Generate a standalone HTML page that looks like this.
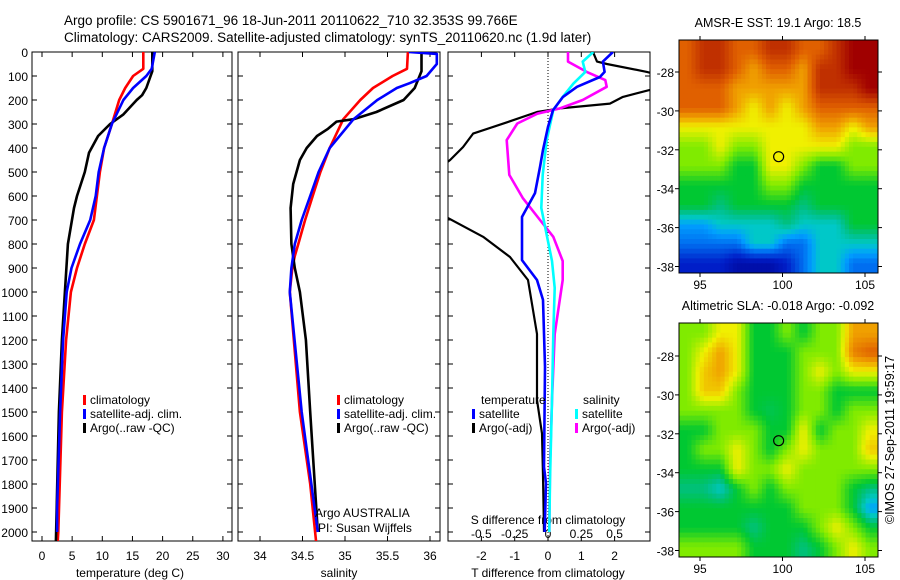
<!DOCTYPE html>
<html><head><meta charset="utf-8"><style>
body{margin:0;background:#fff;}
svg{display:block;font-family:"Liberation Sans",sans-serif;}
text{fill:#000;}
</style></head><body>
<svg id="fig" width="900" height="580" viewBox="0 0 900 580" xmlns="http://www.w3.org/2000/svg">
<text x="64" y="25" font-size="13.5">Argo profile: CS 5901671_96 18-Jun-2011 20110622_710 32.353S 99.766E</text>
<text x="64" y="42" font-size="13.5">Climatology: CARS2009. Satellite-adjusted climatology: synTS_20110620.nc (1.9d later)</text>
<defs>
<clipPath id="c1"><rect x="32" y="52" width="200" height="489"/></clipPath>
<clipPath id="c2"><rect x="238" y="52" width="202" height="489"/></clipPath>
<clipPath id="c3"><rect x="448" y="52" width="202" height="489"/></clipPath>
</defs>
<g id="g1"></g>
<g id="g2"></g>
<g id="g3"></g>
<g id="m1"></g>
<g id="m2"></g>
<text font-size="12.5" transform="translate(894,440) rotate(-90)" text-anchor="middle">©IMOS 27-Sep-2011 19:59:17</text>
</svg>
<script>
// ---- data ----
const depthTicks=[0,100,200,300,400,500,600,700,800,900,1000,1100,1200,1300,1400,1500,1600,1700,1800,1900,2000];
const tempTicks=[0,5,10,15,20,25,30];
const salTicks=[34,34.5,35,35.5,36];
const tdiffTicks=[-2,-1,0,1,2];
const sdiffTicks=[-0.5,-0.25,0,0.25,0.5];
const sdiffLabels=["-0.5","-0.25","0","0.25","0.5"];
const tClimD=[0,70,100,150,200,300,400,500,600,700,800,900,1000,1200,1500,2000,2040];
const tClimV=[16.8,16.8,15.1,13.8,12.8,11.6,10.3,9.6,9.1,8.6,7.1,5.8,4.8,4.0,3.3,2.7,2.6];
const tSatD=[0,70,100,150,200,300,400,500,600,700,800,900,1000,1200,1500,1900,2000];
const tSatV=[18.7,18.2,17.3,15.1,13.5,11.6,10.3,9.4,8.9,8.0,6.3,4.9,4.1,3.5,3.0,2.5,2.5];
const tArgoD=[0,80,150,180,200,260,300,350,420,500,600,650,800,1000,1200,1500,2040];
const tArgoV=[18.3,18.3,17.3,16.6,15.7,13.5,11.3,9.3,7.8,7.1,5.8,5.3,4.3,3.8,3.3,2.8,2.3];
const sClimD=[0,70,100,150,200,280,400,500,600,700,800,850,900,1000,1500,1800,2040];
const sClimV=[35.74,35.73,35.56,35.33,35.18,34.98,34.82,34.71,34.62,34.53,34.45,34.41,34.38,34.35,34.47,34.59,34.66];
const sSatD=[0,8,50,100,130,150,200,280,400,500,600,700,800,900,1000,1500,2000];
const sSatV=[35.75,36.08,36.08,35.96,35.76,35.61,35.38,35.1,34.82,34.69,34.59,34.49,34.41,34.37,34.35,34.49,34.68];
const sArgoD=[0,80,150,200,250,280,290,320,350,400,450,550,650,800,900,1000,1200,1500,2000];
const sArgoV=[35.9,35.9,35.82,35.69,35.37,35.1,34.9,34.8,34.67,34.55,34.47,34.39,34.36,34.37,34.41,34.47,34.54,34.59,34.68];
const dTSatD=[0,40,83,104,145,187,242,312,408,479,588,687,867,950,1033,1312,1729,1796,2000];
const dTSatV=[1.95,1.65,1.7,1.56,0.87,0.45,0.15,0,-0.15,-0.24,-0.39,-0.78,-0.78,-0.33,-0.15,-0.09,-0.12,-0.06,-0.1];
const dTArgoD=[0,40,50,83,120,158,187,215,235,250,293,340,396,450,560,692,770,854,950,1175,1450,1590,1767,2000];
const dTArgoV=[1.35,1.47,1.77,2.97,4.0,3.06,2.25,1.86,0.36,-0.33,-1.23,-2.25,-2.55,-2.94,-4.0,-3.0,-1.95,-1.14,-0.6,-0.33,-0.33,-0.18,-0.15,-0.12];
const dSSatD=[0,40,83,132,187,242,367,512,650,762,871,983,1175,1450,1783,2000];
const dSSatV=[0.34,0.26,0.28,0.19,0.11,0.04,-0.01,-0.04,-0.05,-0.01,0.03,0.05,0.04,0.03,0.015,0.01];
const dSArgoD=[0,40,83,117,145,200,235,257,298,367,512,608,700,770,871,950,1175,1450,1720,2000];
const dSArgoV=[0.15,0.15,0.29,0.43,0.44,0.26,0.09,-0.08,-0.23,-0.31,-0.29,-0.19,-0.06,0.04,0.11,0.11,0.05,0.03,0.015,0.01];
const lonTicks=[95,100,105];
const latTicks=[-28,-30,-32,-34,-36,-38];
const sstGrid=[
[8,9,9,8,8,9,9,8,8,9,10,10],
[8,9,9,8,7,8,8,7,9,9,10,10],
[8,8,8,7,7,7,7,7,9,9,9,10],
[8,8,8,7,6,7,6,7,8,8,8,8],
[6,6,6,6,6,6,6,6,7,7,6,7],
[5,5,6,5,5,6,6,6,6,6,5,5],
[5,5,5,4,4,6,6,5,4,4,5,5],
[4,4,4,4,4,5,5,4,4,4,4,4],
[4,4,3.5,4,4,4,4,3.5,4,4,4,4],
[2.5,2.5,3,3,3,3,3.5,3,3,3,4,4],
[2,2,2,2,3,3,2,2,3,3,3,3],
[1,1,1,0.5,0.5,0.5,1,2,3,3,2,2]];
const slaGrid=[
[5,5,6,6,4,4,5,4,5,5,7,7],
[5,6,7,6,4,4,4,5,5,5,7.5,8],
[5,6.5,7,6,4,4,4,5,6,5,6,6],
[5,6.5,6.5,5,4,4,4,5,5,4,4,4],
[5,5,5,5,4,3.8,4,5,5,4,5,5],
[4,4,5,5,5,4,4,6,4,5,5,6],
[4,5,5,6,5,4,5,6,5,5,5,6.5],
[4,4,4,6,5,5,6,5,5,5,5,5],
[3.5,3.5,3,4,5,4,5,5,5,5,4,3.5],
[4,4,4,4,4,4,4,5,5,5,4,2.5],
[4,4,4,4,3.5,4,4,4,5,6,5,4],
[5,5,5,5,4,4,4,3.5,4,5,6,5]];
const argoLon=99.766, argoLat=-32.353;

// ---- helpers ----
const NS="http://www.w3.org/2000/svg";
function mk(tag,attrs,parent){const e=document.createElementNS(NS,tag);for(const k in attrs)e.setAttribute(k,attrs[k]);parent.appendChild(e);return e;}
const yD=d=>52+0.24*d;
const xT=t=>42+6.03*t;
const xS=s=>260+85*(s-34);
const xDT=t=>548+33.3*t;
const xDS=s=>548+133.3*s;

function panel(g,x0,w){
  const r=mk('rect',{x:x0,y:52,width:w,height:489,fill:'none',stroke:'#000','stroke-width':1},g);
  
  
  depthTicks.forEach(d=>{
    const t1=mk('line',{x1:x0,x2:x0+5,y1:yD(d),y2:yD(d),stroke:'#000'},g);
    
    
    const t2=mk('line',{x1:x0+w,x2:x0+w-5,y1:yD(d),y2:yD(d),stroke:'#000'},g);
    
    
  });
}
function xticks(g,vals,fx,labels,ylab){
  vals.forEach((v,i)=>{
    const x=fx(v);
    const a=mk('line',{x1:x,x2:x,y1:541,y2:536,stroke:'#000'},g);
    
    
    const b=mk('line',{x1:x,x2:x,y1:52,y2:57,stroke:'#000'},g);
    
    
    if(labels){const t=mk('text',{x:x,y:ylab,'font-size':12,'text-anchor':'middle'},g);t.textContent=labels[i];
    
    }
  });
}
function line(g,D,V,fx,color,clip,name,w){
  const p=D.map((d,i)=>fx(V[i]).toFixed(1)+','+yD(d).toFixed(1)).join(' ');
  const e=mk('polyline',{points:p,fill:'none',stroke:color,'stroke-width':w||2.6,'clip-path':'url(#'+clip+')','stroke-linejoin':'round'},g);
  
  
}
function txt(g,x,y,s,str,name,anchor){const t=mk('text',{x:x,y:y,'font-size':s,'text-anchor':anchor||'start'},g);t.textContent=str;
  
  return t;}
function legend(g,x,y,color,label,name){
  const r=mk('rect',{x:x,y:y-9,width:3,height:10,fill:color},g);
  
  
  txt(g,x+7,y,12,label,name);
}

// panel 1
const g1=document.getElementById('g1');
panel(g1,32,200);
depthTicks.forEach(d=>txt(g1,28,yD(d)+5,12,String(d),'depth-tick-label','end'));
xticks(g1,tempTicks,xT,tempTicks.map(String),560);
txt(g1,130,577,12,'temperature (deg C)','x-axis-title','middle');
line(g1,tClimD,tClimV,xT,'#f00','c1','temp-climatology-line');
line(g1,tArgoD,tArgoV,xT,'#000','c1','temp-argo-line');
line(g1,tSatD,tSatV,xT,'#00f','c1','temp-satellite-line');
legend(g1,83,404,'#f00','climatology','legend-climatology');
legend(g1,83,418,'#00f','satellite-adj. clim.','legend-satellite');
legend(g1,83,432,'#000','Argo(..raw -QC)','legend-argo');

// panel 2
const g2=document.getElementById('g2');
panel(g2,238,202);
xticks(g2,salTicks,xS,salTicks.map(String),560);
txt(g2,339,577,12,'salinity','x-axis-title','middle');
line(g2,sClimD,sClimV,xS,'#f00','c2','sal-climatology-line');
line(g2,sArgoD,sArgoV,xS,'#000','c2','sal-argo-line');
line(g2,sSatD,sSatV,xS,'#00f','c2','sal-satellite-line');
legend(g2,337,404,'#f00','climatology','legend-climatology');
legend(g2,337,418,'#00f','satellite-adj. clim.','legend-satellite');
legend(g2,337,432,'#000','Argo(..raw -QC)','legend-argo');
txt(g2,315,517,12,'Argo AUSTRALIA','float-owner');
txt(g2,318,532,12,'PI: Susan Wijffels','float-pi');

// panel 3
const g3=document.getElementById('g3');
panel(g3,448,202);
xticks(g3,tdiffTicks,xDT,tdiffTicks.map(String),560);
sdiffTicks.forEach((v,i)=>txt(g3,xDS(v),538,12,sdiffLabels[i],'s-diff-tick-label','middle'));
txt(g3,548,524,12,'S difference from climatology','s-diff-axis-title','middle');
txt(g3,548,577,12,'T difference from climatology','t-diff-axis-title','middle');
const zl=mk('line',{x1:548,x2:548,y1:52,y2:541,stroke:'#000','stroke-dasharray':'1,2'},g3);


line(g3,dTArgoD,dTArgoV,xDT,'#000','c3','tdiff-argo-line',2.2);
line(g3,dSArgoD,dSArgoV,xDS,'#f0f','c3','sdiff-argo-line');
line(g3,dSSatD,dSSatV,xDS,'#0ff','c3','sdiff-satellite-line');
line(g3,dTSatD,dTSatV,xDT,'#00f','c3','tdiff-satellite-line');
txt(g3,481,404,12,'temperature','legend-temperature-heading');
txt(g3,583,404,12,'salinity','legend-salinity-heading');
legend(g3,472,418,'#00f','satellite','legend-t-satellite');
legend(g3,472,432,'#000','Argo(-adj)','legend-t-argo');
legend(g3,575,418,'#0ff','satellite','legend-s-satellite');
legend(g3,575,432,'#f0f','Argo(-adj)','legend-s-argo');

// maps
const cmapStops=[[0,[0,0,140]],[1,[0,30,200]],[2,[0,110,240]],[2.5,[0,160,255]],[3,[0,200,200]],[3.5,[0,192,128]],[4,[0,200,50]],[5,[128,235,0]],[6,[240,240,0]],[7,[240,160,0]],[8,[224,96,0]],[9,[192,48,0]],[10,[160,0,0]]];
function cmap(v){
  for(let i=0;i<cmapStops.length-1;i++){
    const [a,ca]=cmapStops[i],[b,cb]=cmapStops[i+1];
    if(v<=b||i===cmapStops.length-2){const f=Math.max(0,Math.min(1,(v-a)/(b-a)));
      return 'rgb('+ca.map((c,k)=>Math.round(c+(cb[k]-c)*f)).join(',')+')';}
  }
}
function sample(grid,fr,fc){
  const R=grid.length-1,C=grid[0].length-1;
  fr=Math.max(0,Math.min(R,fr));fc=Math.max(0,Math.min(C,fc));
  const r0=Math.floor(fr),c0=Math.floor(fc),r1=Math.min(R,r0+1),c1=Math.min(C,c0+1);
  const dr=fr-r0,dc=fc-c0;
  return grid[r0][c0]*(1-dr)*(1-dc)+grid[r0][c1]*(1-dr)*dc+grid[r1][c0]*dr*(1-dc)+grid[r1][c1]*dr*dc;
}
function map(id,grid,top,bot,title,latY0){
  const g=document.getElementById(id);
  const x0=679,x1=878,H=bot-top,W=x1-x0;
  const rows=grid.length,cols=grid[0].length;
  const N=48;
  for(let r=0;r<N;r++)for(let c=0;c<N;c++){
    const v=sample(grid,(r+0.5)/N*rows-0.5,(c+0.5)/N*cols-0.5);
    const e=mk('rect',{x:(x0+c*W/N).toFixed(2),y:(top+r*H/N).toFixed(2),width:(W/N+0.5).toFixed(2),height:(H/N+0.5).toFixed(2),fill:cmap(v)},g);
    
    
  }
  const fr=mk('rect',{x:x0,y:top,width:W,height:H,fill:'none',stroke:'#000'},g);
  
  
  const lx=l=>700+(l-95)*16.5;
  const ly=l=>latY0+(-28-l)*19.45;
  lonTicks.forEach(l=>{
    const a=mk('line',{x1:lx(l),x2:lx(l),y1:bot,y2:bot+4,stroke:'#000'},g);
    
    
    const b=mk('line',{x1:lx(l),x2:lx(l),y1:top,y2:top-4,stroke:'#000'},g);
    
    
    txt(g,lx(l),bot+16,12,String(l),'lon-tick-label','middle');
  });
  latTicks.forEach(l=>{
    const a=mk('line',{x1:x0,x2:x0-4,y1:ly(l),y2:ly(l),stroke:'#000'},g);
    
    
    const b=mk('line',{x1:x1,x2:x1+4,y1:ly(l),y2:ly(l),stroke:'#000'},g);
    
    
    txt(g,674,ly(l)+5,12,String(l),'lat-tick-label','end');
  });
  const c=mk('circle',{cx:lx(argoLon),cy:ly(argoLat),r:5,fill:'none',stroke:'#000','stroke-width':1.2},g);
  
  
  txt(g,778,top-13,12.5,title,'map-title','middle');
}
map('m1',sstGrid,40,273,'AMSR-E SST: 19.1 Argo: 18.5',72);
map('m2',slaGrid,323,557,'Altimetric SLA: -0.018 Argo: -0.092',356);
</script>
</body></html>
